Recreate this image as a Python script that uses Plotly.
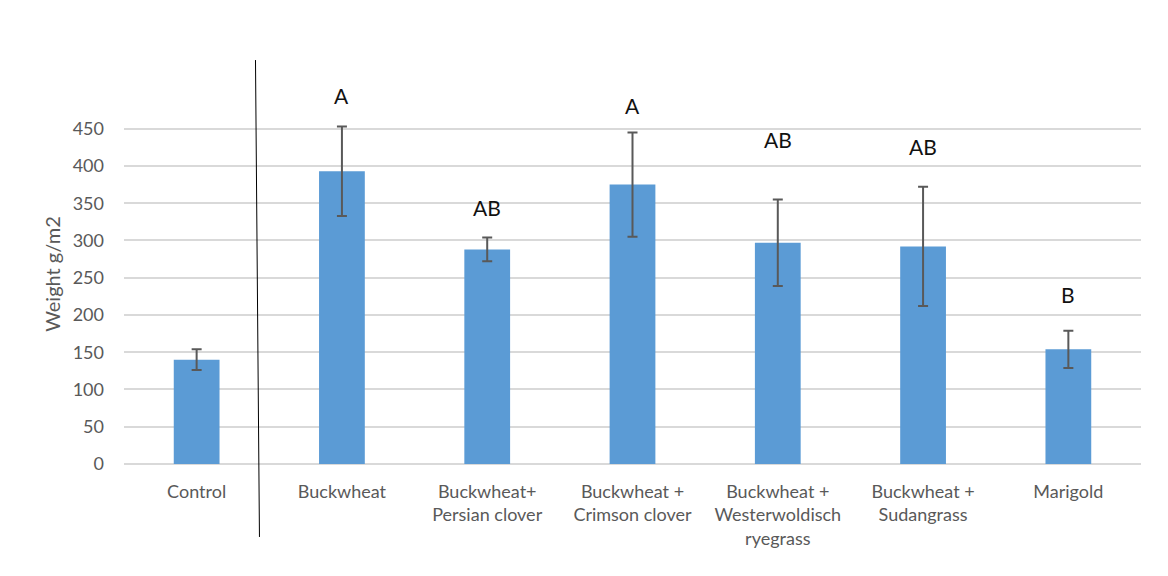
import plotly.graph_objects as go

# Treatments and their mean dry weight with standard error
categories = [
    "Control",
    "Buckwheat",
    "Buckwheat+<br>Persian clover",
    "Buckwheat +<br>Crimson clover",
    "Buckwheat +<br>Westerwoldisch<br>ryegrass",
    "Buckwheat +<br>Sudangrass",
    "Marigold",
]
weights = [140, 393, 288, 375, 297, 292, 154]
errors = [14, 60, 16, 70, 58, 80, 25]

# Significance groups and the height at which each letter is written
group_letters = ["", "A", "AB", "A", "AB", "AB", "B"]
letter_heights = [0, 494, 344, 481, 435, 426, 227]

y_ticks = [0, 50, 100, 150, 200, 250, 300, 350, 400, 450]

bar_color = "#5B9BD5"
text_gray = "#595959"
font_main = "Lato, 'Open Sans', sans-serif"

fig = go.Figure()
fig.add_trace(go.Bar(
    x=categories,
    y=weights,
    width=0.315,
    marker=dict(color=bar_color, line=dict(width=0)),
    error_y=dict(type="data", array=errors, visible=True,
                 color=text_gray, thickness=2, width=5),
    cliponaxis=False,
    hoverinfo="x+y",
))

for cat, letter, h in zip(categories, group_letters, letter_heights):
    if letter:
        fig.add_annotation(x=cat, y=h, text=letter, showarrow=False,
                           font=dict(family=font_main, size=21, color="#111111"),
                           xanchor="center", yanchor="middle")

# Divider separating the control from the treatments (runs past the plot area)
fig.add_shape(type="line", xref="paper", yref="paper",
              x0=0.1293, y0=1.063, x1=0.1332, y1=-0.192,
              line=dict(color="black", width=1))

fig.update_layout(
    width=1168, height=576,
    margin=dict(l=124, r=27, t=84, b=112),
    plot_bgcolor="white", paper_bgcolor="white",
    showlegend=False,
    xaxis=dict(
        type="category",
        tickfont=dict(family=font_main, size=18, color=text_gray),
        showgrid=False, zeroline=False, showline=False,
        ticks="", ticklabelstandoff=15,
    ),
    yaxis=dict(
        range=[0, 510],
        tickvals=y_ticks,
        tickfont=dict(family=font_main, size=18, color=text_gray),
        showgrid=True, gridcolor="#D9D9D9", gridwidth=1.5,
        zeroline=True, zerolinecolor="#D9D9D9", zerolinewidth=1.5,
        showline=False, ticks="", ticklabelstandoff=19,
        title=dict(text="Weight g/m2", standoff=6,
                   font=dict(family=font_main, size=20, color=text_gray)),
    ),
)

fig.write_html("out.html")
